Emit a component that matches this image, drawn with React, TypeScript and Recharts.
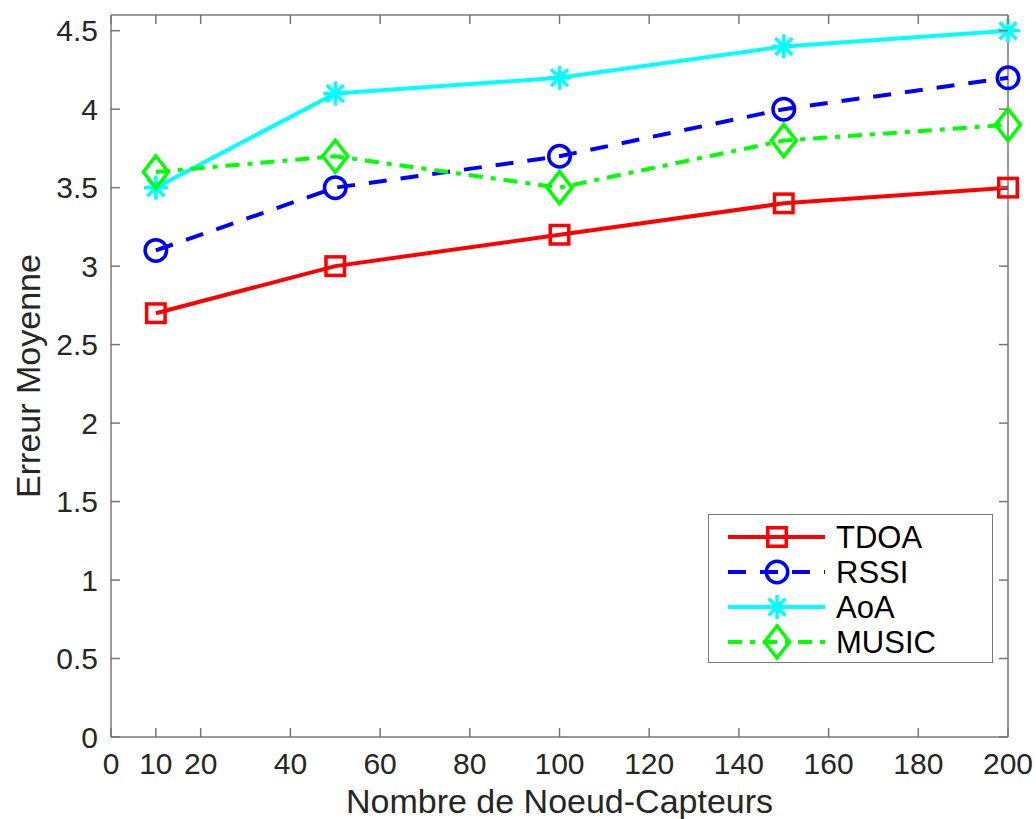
import React from 'react';
import { LineChart, Line, XAxis, YAxis, ReferenceLine } from 'recharts';

// values
const nodes = [10, 50, 100, 150, 200];
const tdoa = [2.7, 3.0, 3.2, 3.4, 3.5];
const rssi = [3.1, 3.5, 3.7, 4.0, 4.2];
const aoa = [3.5, 4.1, 4.2, 4.4, 4.5];
const music = [3.6, 3.7, 3.5, 3.8, 3.9];

const xTicks = [0, 10, 20, 40, 60, 80, 100, 120, 140, 160, 180, 200];
const yTicks = [0, 0.5, 1, 1.5, 2, 2.5, 3, 3.5, 4, 4.5];

const data = nodes.map((n, i) => ({
  n,
  tdoa: tdoa[i],
  rssi: rssi[i],
  aoa: aoa[i],
  music: music[i],
}));

const W = 1036;
const H = 819;
const PLOT_LEFT = 111;
const PLOT_RIGHT = 1008;
const PLOT_TOP = 15;
const PLOT_BOTTOM = 737;
const FONT = '"Liberation Sans", Arial, Helvetica, sans-serif';
const AXIS = '#777777';
const TEXT = '#262626';
const TICK_LEN = 9;
const LINE_W = 4;

type Marker = 'square' | 'circle' | 'star' | 'diamond';

const drawMarker = (kind: Marker, cx: number, cy: number, color: string, key?: string) => {
  const sw = 3.5;
  if (kind === 'square') {
    return <rect key={key} x={cx - 9.25} y={cy - 9.25} width={18.5} height={18.5} fill="none" stroke={color} strokeWidth={sw} />;
  }
  if (kind === 'circle') {
    return <circle key={key} cx={cx} cy={cy} r={10.75} fill="none" stroke={color} strokeWidth={sw} />;
  }
  if (kind === 'diamond') {
    const p = `${cx},${cy - 16} ${cx + 12.5},${cy} ${cx},${cy + 16} ${cx - 12.5},${cy}`;
    return <polygon key={key} points={p} fill="none" stroke={color} strokeWidth={sw} />;
  }
  const r = 12;
  const d = 8.5;
  return (
    <g key={key} stroke={color} strokeWidth={sw}>
      <line x1={cx - r} y1={cy} x2={cx + r} y2={cy} />
      <line x1={cx} y1={cy - r} x2={cx} y2={cy + r} />
      <line x1={cx - d} y1={cy - d} x2={cx + d} y2={cy + d} />
      <line x1={cx - d} y1={cy + d} x2={cx + d} y2={cy - d} />
    </g>
  );
};

const series = [
  { key: 'tdoa', name: 'TDOA', color: '#ff0000', dash: undefined, marker: 'square' as Marker },
  { key: 'rssi', name: 'RSSI', color: '#0000ff', dash: '18 14', marker: 'circle' as Marker },
  { key: 'aoa', name: 'AoA', color: '#00ffff', dash: undefined, marker: 'star' as Marker },
  { key: 'music', name: 'MUSIC', color: '#00ff00', dash: '14 8 5 8', marker: 'diamond' as Marker },
];

const XTick = (props: any) => {
  const { x, payload } = props;
  return (
    <g>
      <line x1={x} x2={x} y1={PLOT_BOTTOM} y2={PLOT_BOTTOM - TICK_LEN} stroke={AXIS} strokeWidth={1.5} />
      <line x1={x} x2={x} y1={PLOT_TOP} y2={PLOT_TOP + TICK_LEN} stroke={AXIS} strokeWidth={1.5} />
      <text x={x} y={PLOT_BOTTOM + 37} textAnchor="middle" fontSize={30} fill={TEXT} fontFamily={FONT}>
        {payload.value}
      </text>
    </g>
  );
};

const YTick = (props: any) => {
  const { y, payload } = props;
  return (
    <g>
      <line x1={PLOT_LEFT} x2={PLOT_LEFT + TICK_LEN} y1={y} y2={y} stroke={AXIS} strokeWidth={1.5} />
      <line x1={PLOT_RIGHT} x2={PLOT_RIGHT - TICK_LEN} y1={y} y2={y} stroke={AXIS} strokeWidth={1.5} />
      <text x={PLOT_LEFT - 13} y={y + 10.5} textAnchor="end" fontSize={30} fill={TEXT} fontFamily={FONT}>
        {String(payload.value)}
      </text>
    </g>
  );
};

const LegendBox = () => (
  <div
    style={{
      position: 'absolute',
      left: 708,
      top: 514,
      width: 285,
      height: 149,
      boxSizing: 'border-box',
      border: '1.5px solid #777',
      background: '#fff',
    }}
  >
    <svg width={285} height={149} style={{ position: 'absolute', left: -1.5, top: -1.5 }}>
      {series.map((s, i) => {
        const cy = 23 + i * 35;
        return (
          <g key={s.key}>
            <line x1={20} x2={117} y1={cy} y2={cy} stroke={s.color} strokeWidth={LINE_W} strokeDasharray={s.dash} />
            {drawMarker(s.marker, 69, cy, s.color)}
            <text x={128} y={cy + 11} fontSize={31} fill="#000" fontFamily={FONT}>
              {s.name}
            </text>
          </g>
        );
      })}
    </svg>
  </div>
);

export default function App() {
  return (
    <div style={{ position: 'absolute', left: 0, top: 0, width: W, height: H, background: '#fff' }}>
      <LineChart width={W} height={H} data={data} margin={{ top: PLOT_TOP, right: W - PLOT_RIGHT, bottom: 0, left: 0 }}>
        <XAxis
          dataKey="n"
          type="number"
          domain={[0, 200]}
          ticks={xTicks}
          height={H - PLOT_BOTTOM}
          tickLine={false}
          tick={XTick}
          axisLine={{ stroke: AXIS, strokeWidth: 1.5 }}
          label={{
            value: 'Nombre de Noeud-Capteurs',
            position: 'insideBottom',
            offset: 6,
            style: { fontSize: 34, fill: TEXT, fontFamily: FONT },
          }}
        />
        <YAxis
          type="number"
          domain={[0, 4.6]}
          ticks={yTicks}
          width={PLOT_LEFT}
          tickLine={false}
          tick={YTick}
          axisLine={{ stroke: AXIS, strokeWidth: 1.5 }}
          label={{
            value: 'Erreur Moyenne',
            angle: -90,
            position: 'insideLeft',
            offset: 28,
            style: { fontSize: 34, fill: TEXT, fontFamily: FONT, textAnchor: 'middle' },
          }}
        />
        <ReferenceLine y={4.6} stroke={AXIS} strokeWidth={1.5} />
        <ReferenceLine x={200} stroke={AXIS} strokeWidth={1.5} />
        {series.map((s) => (
          <Line
            key={s.key}
            dataKey={s.key}
            name={s.name}
            type="linear"
            stroke={s.color}
            strokeWidth={LINE_W}
            strokeDasharray={s.dash}
            dot={(p: any) => drawMarker(s.marker, p.cx, p.cy, s.color, `${s.key}-${p.index}`)}
            activeDot={false}
            isAnimationActive={false}
          />
        ))}
      </LineChart>
      <LegendBox />
    </div>
  );
}
